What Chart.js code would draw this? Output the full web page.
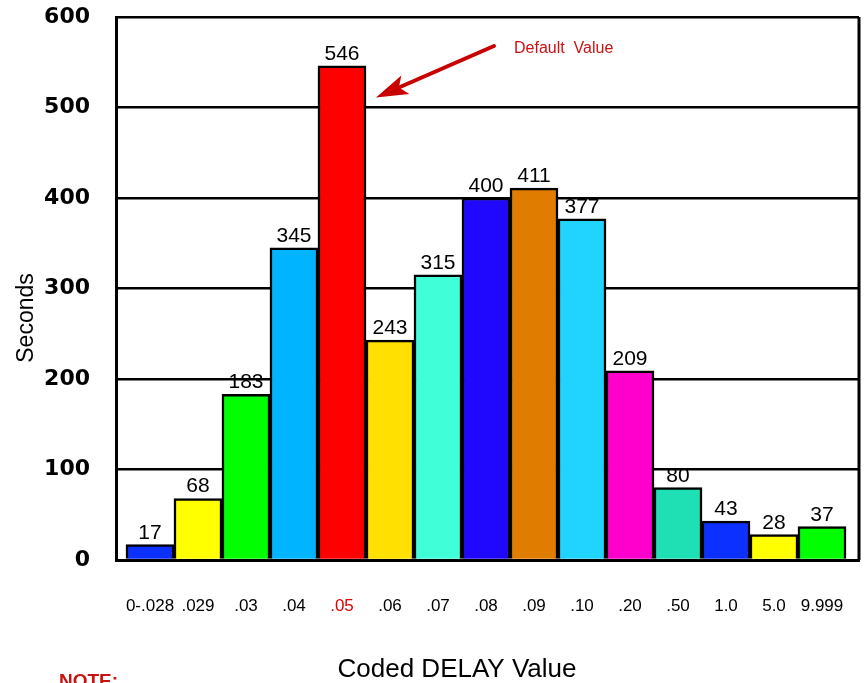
<!DOCTYPE html>
<html>
<head>
<meta charset="utf-8">
<script src="https://cdn.jsdelivr.net/npm/chart.js@4/dist/chart.umd.min.js"></script>
<style>
  html, body { margin: 0; padding: 0; background: #fff; overflow: hidden; }
  canvas { display: block; }
</style>
</head>
<body>
<canvas id="delay_chart" width="865" height="683"></canvas>
<script>
// data
const categories = ['0-.028', '.029', '.03', '.04', '.05', '.06', '.07', '.08', '.09', '.10', '.20', '.50', '1.0', '5.0', '9.999'];
const seconds = [17, 68, 183, 345, 546, 243, 315, 400, 411, 377, 209, 80, 43, 28, 37];
const bar_colors = ['#0c30ff', '#ffff00', '#00ff00', '#00b4ff', '#ff0000', '#ffe000', '#40ffd8', '#2008ff',
                    '#e07c00', '#20d4ff', '#ff00cc', '#1ee0b4', '#0c30ff', '#ffff00', '#00ff00'];
const y_ticks = [0, 100, 200, 300, 400, 500, 600];
const default_index = 4;

// draws values above bars, right border, titles, arrow and notes
const extras = {
    id: 'extras',
    afterDatasetsDraw(chart) {
        const ctx = chart.ctx;
        const meta = chart.getDatasetMeta(0);
        ctx.save();
        ctx.fillStyle = '#000';
        ctx.font = '21px "Liberation Sans", Arial, sans-serif';
        ctx.textAlign = 'center';
        ctx.textBaseline = 'alphabetic';
        meta.data.forEach((bar, i) => {
            ctx.fillText(String(seconds[i]), bar.x, bar.y - 6);
        });
        ctx.restore();
    },
    afterDraw(chart) {
        const ctx = chart.ctx;
        const area = chart.chartArea;
        ctx.save();
        // right frame line
        ctx.strokeStyle = '#000';
        ctx.lineWidth = 3;
        ctx.beginPath();
        ctx.moveTo(area.right, area.top);
        ctx.lineTo(area.right, area.bottom);
        ctx.stroke();

        // axis titles (not centred on the plot in the original)
        ctx.fillStyle = '#000';
        ctx.textAlign = 'center';
        ctx.textBaseline = 'middle';
        ctx.font = '26px "Liberation Sans", Arial, sans-serif';
        ctx.fillText('Coded DELAY Value', 457, 670);
        ctx.save();
        ctx.translate(27, 318);
        ctx.rotate(-Math.PI / 2);
        ctx.font = '23px "Liberation Sans", Arial, sans-serif';
        ctx.fillText('Seconds', 0, 0);
        ctx.restore();

        // arrow to default bar
        const xs = chart.scales.x, ys = chart.scales.y;
        const tipX = xs.getPixelForValue(default_index + 0.5) + 10;
        const tipY = ys.getPixelForValue(511);
        const fromX = 494, fromY = 46;
        const ang = Math.atan2(tipY - fromY, tipX - fromX);
        ctx.strokeStyle = '#c80000';
        ctx.fillStyle = '#c80000';
        ctx.lineWidth = 4;
        ctx.lineCap = 'round';
        ctx.beginPath();
        ctx.moveTo(fromX, fromY);
        ctx.lineTo(tipX - 20 * Math.cos(ang), tipY - 20 * Math.sin(ang));
        ctx.stroke();
        ctx.beginPath();
        ctx.moveTo(tipX, tipY);
        ctx.lineTo(tipX - 32 * Math.cos(ang) + 10 * Math.sin(ang), tipY - 32 * Math.sin(ang) - 10 * Math.cos(ang));
        ctx.lineTo(tipX - 25 * Math.cos(ang), tipY - 25 * Math.sin(ang));
        ctx.lineTo(tipX - 32 * Math.cos(ang) - 10 * Math.sin(ang), tipY - 32 * Math.sin(ang) + 10 * Math.cos(ang));
        ctx.closePath();
        ctx.fill();

        ctx.fillStyle = '#cc1111';
        ctx.font = '16px "Liberation Sans", Arial, sans-serif';
        ctx.textAlign = 'left';
        ctx.textBaseline = 'middle';
        ctx.fillText('Default  Value', 514, 49);

        ctx.font = 'bold 19px "Liberation Sans", Arial, sans-serif';
        ctx.textBaseline = 'alphabetic';
        ctx.fillText('NOTE:', 59, 687);
        ctx.restore();
    }
};

new Chart(document.getElementById('delay_chart'), {
    type: 'bar',
    data: {
        labels: categories.map((c, i) => i),
        datasets: [{
            data: seconds,
            backgroundColor: bar_colors,
            borderColor: '#000',
            borderWidth: 2.5,
            barPercentage: 1,
            categoryPercentage: 1
        }]
    },
    options: {
        responsive: false,
        animation: false,
        devicePixelRatio: 1,
        layout: { padding: { top: 17, right: 6, left: 0, bottom: 0 } },
        plugins: { legend: { display: false }, tooltip: { enabled: false } },
        scales: {
            x: {
                type: 'linear',
                offset: false,
                min: -0.708,
                max: 14.771,
                grid: { display: false, drawTicks: false },
                border: { display: true, color: '#000', width: 3 },
                ticks: {
                    stepSize: 1,
                    includeBounds: false,
                    autoSkip: false,
                    maxRotation: 0,
                    padding: 36,
                    font: { family: '"Liberation Sans", Arial, sans-serif', size: 17 },
                    color: c => (c.tick && c.tick.value === default_index) ? '#e00000' : '#000',
                    callback: v => (Number.isInteger(v) && categories[v] !== undefined) ? categories[v] : ''
                },
                afterFit: s => { s.height = 123; s.paddingLeft = 0; s.paddingRight = 0; }
            },
            y: {
                min: 0,
                max: 600,
                afterBuildTicks: s => { s.ticks = y_ticks.map(v => ({ value: v })); },
                grid: { color: '#000', lineWidth: 2.5, drawTicks: false },
                border: { display: true, color: '#000', width: 3 },
                ticks: {
                    padding: 26,
                    color: '#000',
                    font: { family: '"DejaVu Sans", sans-serif', size: 22, weight: 'bold' }
                },
                afterFit: s => { s.width = 116; s.paddingTop = 0; s.paddingBottom = 0; }
            }
        }
    },
    plugins: [extras]
});
</script>
</body>
</html>
